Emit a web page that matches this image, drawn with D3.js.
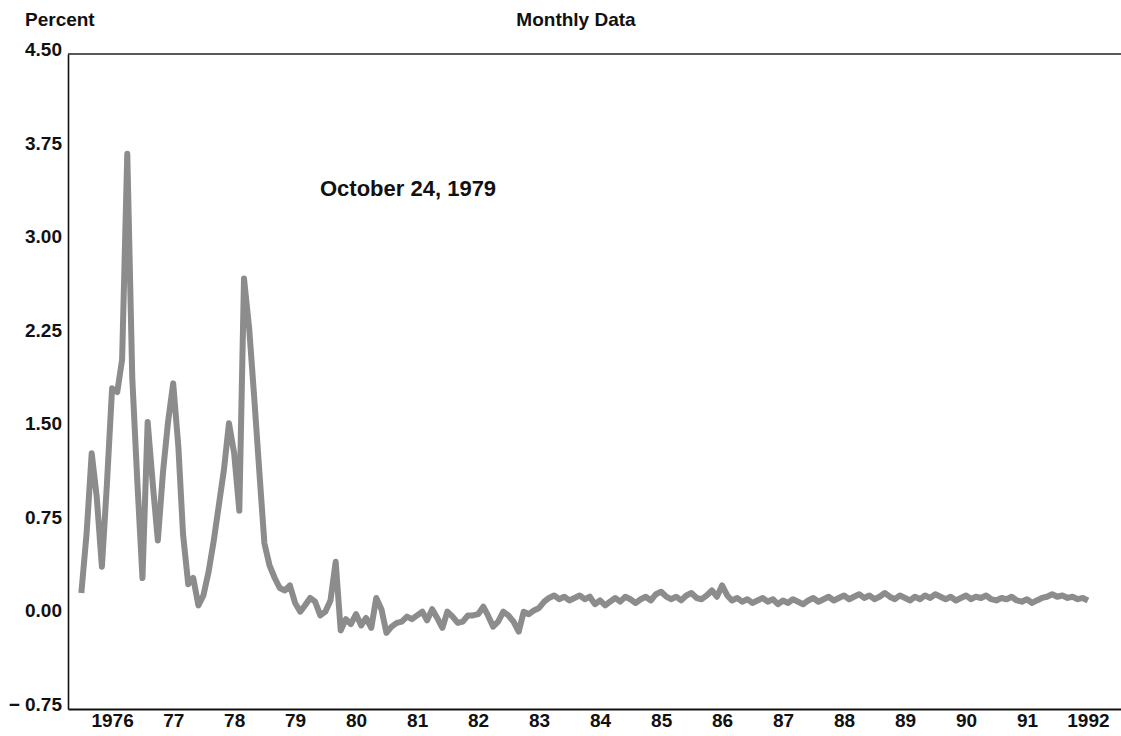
<!DOCTYPE html>
<html>
<head>
<meta charset="utf-8">
<script src="https://cdn.jsdelivr.net/npm/d3@7"></script>
<style>
  body { margin: 0; background: #fff; }
  text { font-family: "Liberation Sans", Arial, sans-serif; font-weight: bold; fill: #111; }
</style>
</head>
<body>
<div id="chart"></div>
<script>
// one value per month, first month is July 1975 (percent)
var startYear = 1975, startMonth = 6;
var values = [
  0.18, 0.65, 1.30, 0.95, 0.39, 1.05, 1.82, 1.79, 2.05, 3.70,
  1.90, 1.05, 0.30, 1.55, 1.05, 0.60, 1.15, 1.55, 1.86, 1.35,
  0.65, 0.25, 0.30, 0.08, 0.16, 0.35, 0.60, 0.88, 1.17, 1.54,
  1.30, 0.84, 2.70, 2.30, 1.75, 1.15, 0.58, 0.40, 0.30, 0.22,
  0.20, 0.24, 0.10, 0.03, 0.08, 0.14, 0.11, 0.00, 0.03, 0.12,
  0.43, -0.12, -0.03, -0.07, 0.01, -0.08, -0.02, -0.10, 0.14, 0.05,
  -0.14, -0.09, -0.06, -0.05, -0.01, -0.03, 0.00, 0.03, -0.04, 0.05,
  -0.02, -0.10, 0.03, -0.01, -0.06, -0.05, 0.00, 0.00, 0.01, 0.07,
  0.00, -0.09, -0.05, 0.03, 0.00, -0.05, -0.13, 0.03, 0.01, 0.04,
  0.06, 0.11, 0.14, 0.16, 0.13, 0.15, 0.12, 0.14, 0.16, 0.13,
  0.15, 0.09, 0.12, 0.08, 0.11, 0.14, 0.11, 0.15, 0.13, 0.10,
  0.13, 0.15, 0.12, 0.17, 0.19, 0.15, 0.13, 0.15, 0.12, 0.16,
  0.18, 0.14, 0.13, 0.16, 0.20, 0.15, 0.24, 0.16, 0.12, 0.14,
  0.11, 0.13, 0.10, 0.12, 0.14, 0.11, 0.13, 0.09, 0.12, 0.10,
  0.13, 0.11, 0.09, 0.12, 0.14, 0.11, 0.13, 0.15, 0.12, 0.14,
  0.16, 0.13, 0.15, 0.17, 0.14, 0.16, 0.13, 0.15, 0.18, 0.15,
  0.13, 0.16, 0.14, 0.12, 0.15, 0.13, 0.16, 0.14, 0.17, 0.15,
  0.13, 0.15, 0.12, 0.14, 0.16, 0.13, 0.15, 0.14, 0.16, 0.13,
  0.12, 0.14, 0.13, 0.15, 0.12, 0.11, 0.13, 0.10, 0.12, 0.14,
  0.15, 0.17, 0.15, 0.16, 0.14, 0.15, 0.13, 0.14, 0.12
];

var yTicks = [4.50, 3.75, 3.00, 2.25, 1.50, 0.75, 0.00, -0.75];
var yTickLabels = ["4.50", "3.75", "3.00", "2.25", "1.50", "0.75", "0.00", "\u2212 0.75"];
var xTickYears = [1976, 1977, 1978, 1979, 1980, 1981, 1982, 1983, 1984,
                  1985, 1986, 1987, 1988, 1989, 1990, 1991, 1992];
var xTickLabels = ["1976", "77", "78", "79", "80", "81", "82", "83", "84",
                   "85", "86", "87", "88", "89", "90", "91", "1992"];

var W = 1121, H = 736;
var margin = {top: 54, right: 0, bottom: 27, left: 68},
    width = W - margin.left - margin.right,
    height = H - margin.top - margin.bottom;

var svg = d3.select("#chart")
  .append("svg")
    .attr("width", W)
    .attr("height", H);

var g = svg.append("g")
    .attr("transform", "translate(" + margin.left + "," + margin.top + ")");

var x = d3.scaleTime()
    .domain([new Date(1975, 3, 12), new Date(1992, 6, 17)])
    .range([0, width]);

var y = d3.scaleLinear()
    .domain([-0.75, 4.5])
    .range([height, 0]);

var data = values.map(function(v, i) {
  return {date: new Date(startYear, startMonth + i, 1), value: v};
});

// y axis, labels sit on their tick
var yAxis = d3.axisLeft(y)
    .tickValues(yTicks)
    .tickSize(0)
    .tickPadding(6)
    .tickFormat(function(d, i) { return yTickLabels[i]; });

g.append("g")
    .attr("class", "y axis")
    .call(yAxis)
    .call(function(s) {
      s.select(".domain").attr("stroke", "#111").attr("stroke-width", 1.6);
      s.selectAll("text").attr("font-size", 19).attr("dy", "0.08em");
    });

// x axis, one label per January
var xAxis = d3.axisBottom(x)
    .tickValues(xTickYears.map(function(yr) { return new Date(yr, 0, 1); }))
    .tickSize(0)
    .tickPadding(5)
    .tickFormat(function(d, i) { return xTickLabels[i]; });

g.append("g")
    .attr("class", "x axis")
    .attr("transform", "translate(0," + height + ")")
    .call(xAxis)
    .call(function(s) {
      s.select(".domain").attr("stroke", "#111").attr("stroke-width", 1.8);
      s.selectAll("text").attr("font-size", 19);
    });

// top border
g.append("line")
    .attr("x1", 0).attr("x2", width)
    .attr("y1", 0).attr("y2", 0)
    .attr("stroke", "#222")
    .attr("stroke-width", 1.6);

var line = d3.line()
    .x(function(d) { return x(d.date); })
    .y(function(d) { return y(d.value); });

g.append("path")
    .datum(data)
    .attr("fill", "none")
    .attr("stroke", "#8c8c8c")
    .attr("stroke-width", 6)
    .attr("stroke-linejoin", "round")
    .attr("d", line);

// titles
svg.append("text")
    .attr("x", 25).attr("y", 26)
    .attr("font-size", 19)
    .text("Percent");

svg.append("text")
    .attr("x", 576).attr("y", 26)
    .attr("text-anchor", "middle")
    .attr("font-size", 19)
    .text("Monthly Data");

svg.append("text")
    .attr("x", 320).attr("y", 196)
    .attr("font-size", 22)
    .text("October 24, 1979");
</script>
</body>
</html>
